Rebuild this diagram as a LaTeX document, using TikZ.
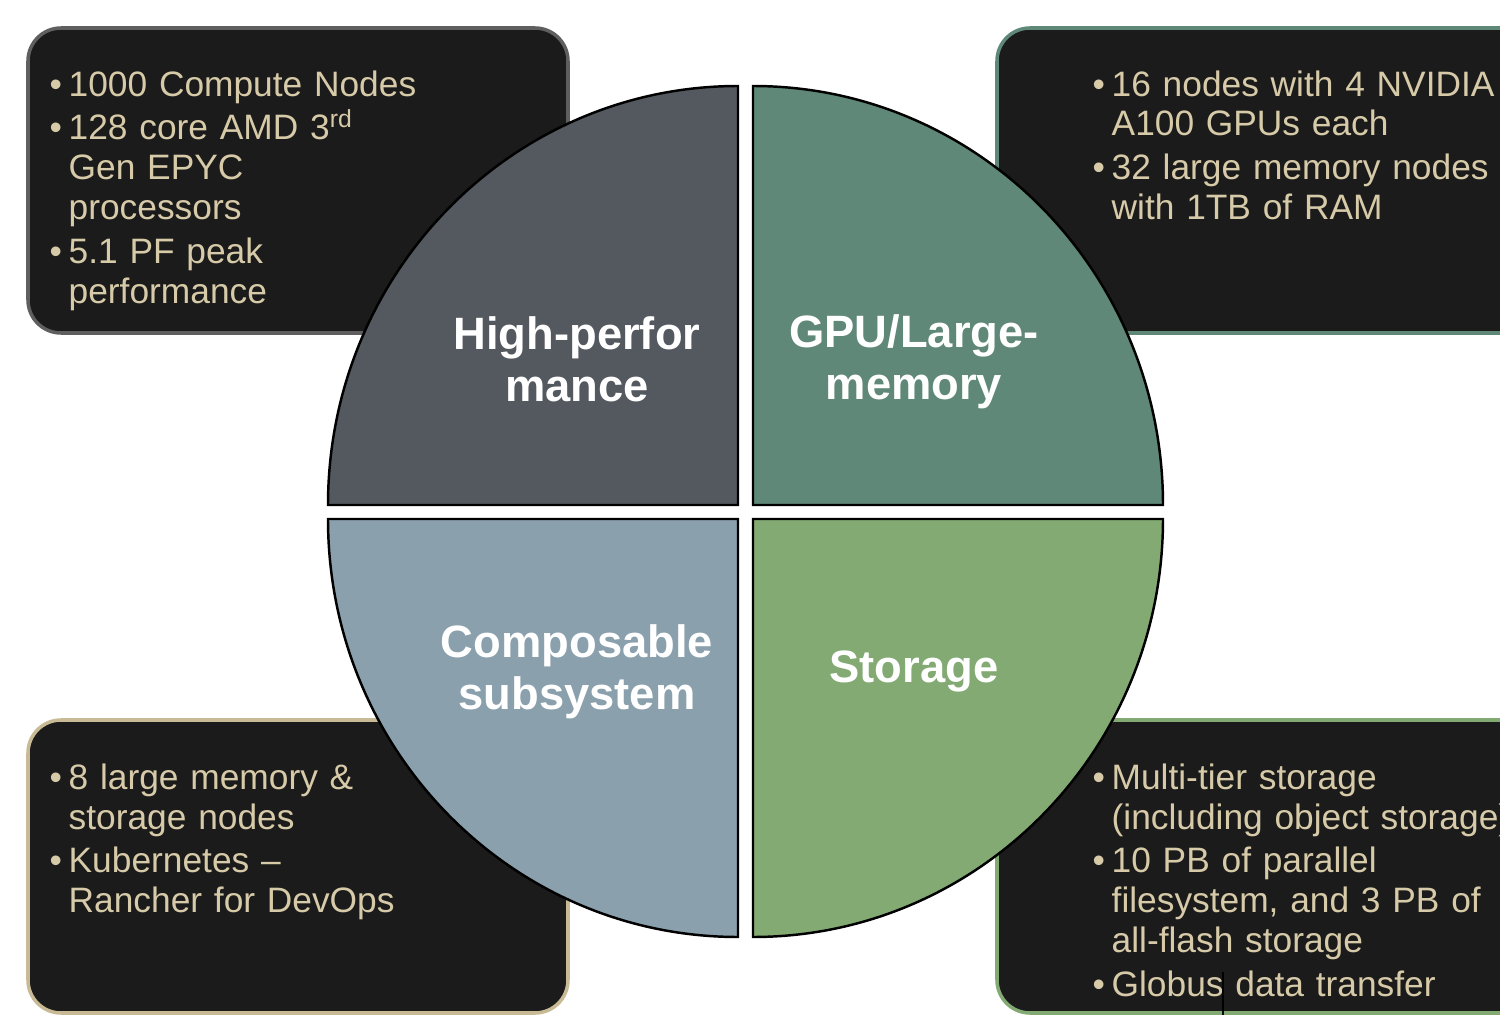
\documentclass[tikz,border=0pt]{standalone}
\usepackage{fontspec}
\setmainfont{Liberation Sans}
\usetikzlibrary{calc}
\definecolor{boxfill}{RGB}{27,27,27}
\definecolor{bultext}{RGB}{214,202,168}
\definecolor{hpcfill}{RGB}{84,89,96}
\definecolor{gpufill}{RGB}{95,136,120}
\definecolor{compfill}{RGB}{138,160,173}
\definecolor{storfill}{RGB}{132,170,116}
\definecolor{hpcedge}{RGB}{95,95,95}
\definecolor{compedge}{RGB}{200,186,148}
\tikzset{
	infobox/.style={draw=#1, line width=1pt, fill=boxfill, rounded corners=0.33cm},
	quadrant/.style={draw=black, line width=0.7pt, fill=#1},
	quadlabel/.style={text=white, align=center, inner sep=0pt, font=\fontsize{12.9}{14.8}\selectfont\bfseries},
	bullettext/.style={anchor=base west, text=bultext, text width=5cm, align=left, inner sep=0pt, font=\fontsize{10.05}{11.38}\selectfont}
}
% bullet paragraph with hanging indent
\newcommand{\bpoint}{\parskip=0.04cm\hangindent=0.19cm\hangafter=1\noindent\makebox[0.19cm][l]{\textbullet}}

\begin{document}
\begin{tikzpicture}
\clip (0,0) rectangle (15,10.15);
\fill[white] (0,0) rectangle (15,10.15);
% boxes
\draw[infobox=hpcedge] (0.28,9.87) rectangle (5.68,6.82);
\draw[infobox=gpufill] (9.97,9.87) rectangle (15.5,6.82);
\draw[infobox=compedge] (0.28,2.95) rectangle (5.68,0.02);
\draw[infobox=storfill] (9.97,2.95) rectangle (15.5,0.02);
% box texts
\node[bullettext] (hpctext) at (0.49,9.19) {\bpoint 1000 Compute Nodes\par
	\bpoint 128 core AMD 3\textsuperscript{rd}\newline Gen EPYC\newline processors\par
	\bpoint 5.1 PF peak\newline performance\par};
\node[bullettext] (gputext) at (10.92,9.19) {\bpoint 16 nodes with 4 NVIDIA\newline A100 GPUs each\par
	\bpoint 32 large memory nodes\newline with 1TB of RAM\par};
\node[bullettext] (comptext) at (0.49,2.26) {\bpoint 8 large memory \&\newline storage nodes\par
	\bpoint Kubernetes --\newline Rancher for DevOps\par};
\node[bullettext] (stortext) at (10.92,2.26) {\bpoint Multi-tier storage\newline (including object storage)\par
	\bpoint 10 PB of parallel\newline filesystem, and 3 PB of\newline all-flash storage\par
	\bpoint Globus data transfer\par};
% quadrants
\draw[quadrant=hpcfill] (7.38,5.10) -- (3.28,5.10) arc[start angle=180, end angle=90, x radius=4.10, y radius=4.19] -- cycle;
\draw[quadrant=gpufill] (7.53,5.10) -- (11.63,5.10) arc[start angle=0, end angle=90, x radius=4.10, y radius=4.19] -- cycle;
\draw[quadrant=compfill] (7.38,4.96) -- (3.28,4.96) arc[start angle=180, end angle=270, x radius=4.10, y radius=4.18] -- cycle;
\draw[quadrant=storfill] (7.53,4.96) -- (11.63,4.96) arc[start angle=0, end angle=-90, x radius=4.10, y radius=4.18] -- cycle;
\node[quadlabel] (hpclabel) at (5.77,6.56) {High-perfor\\mance};
\node[quadlabel] (gpulabel) at (9.14,6.53) {GPU/Large-\\memory};
\node[quadlabel] (complabel) at (5.77,3.43) {Composable\\subsystem};
\node[quadlabel] (storlabel) at (9.14,3.44) {Storage};
\draw[black, line width=0.4pt] (12.23,0.43) -- (12.23,0);
\end{tikzpicture}
\end{document}
